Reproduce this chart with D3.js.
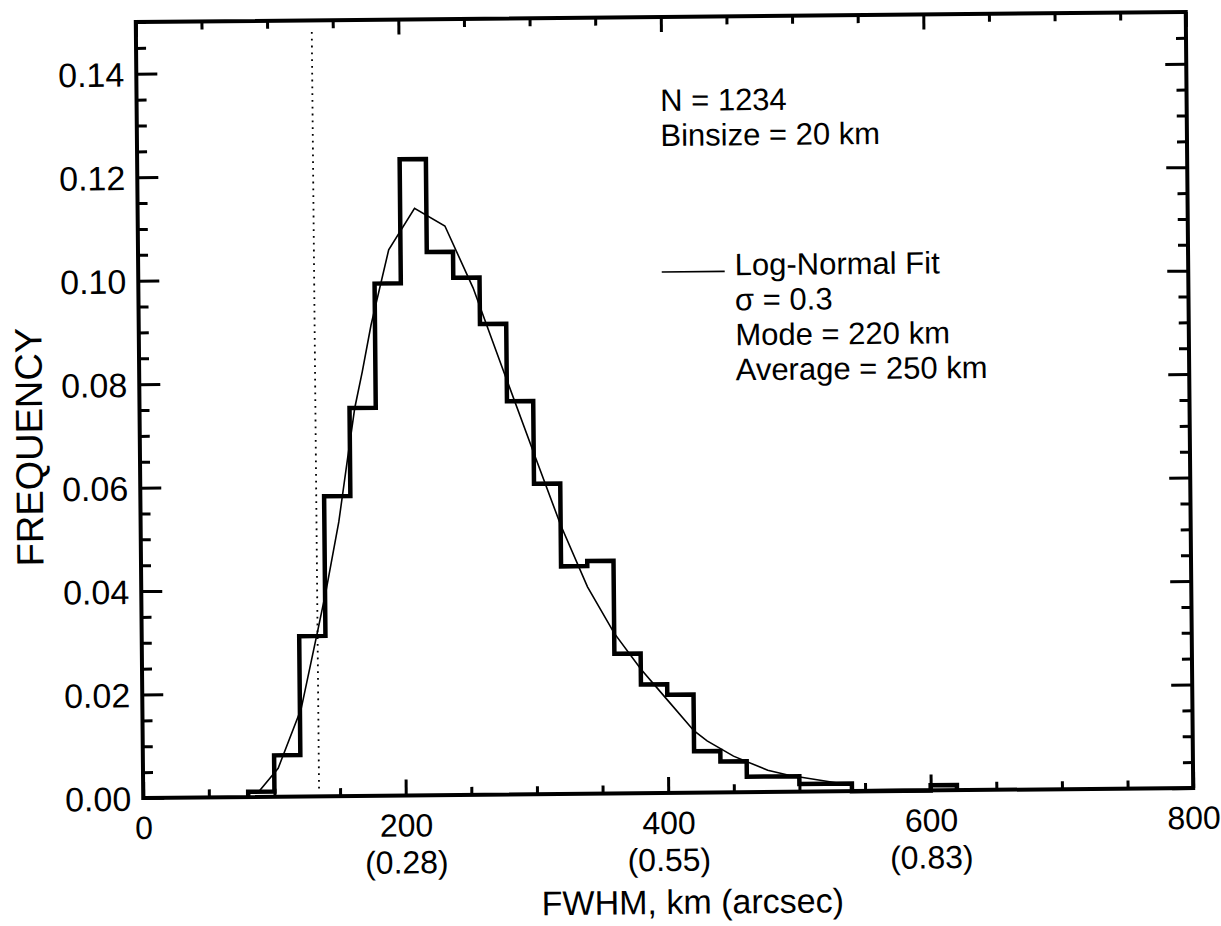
<!DOCTYPE html>
<html><head><meta charset="utf-8">
<script src="https://cdn.jsdelivr.net/npm/d3@7"></script>
<style>
body{margin:0;background:#fff}
svg{display:block}
text{font-family:"Liberation Sans",Arial,Helvetica,sans-serif;fill:#000}
</style>
</head><body>
<svg id="chart" width="1221" height="926"></svg>
<script>
// ---- data ----
const binWidth = 20;
const binStarts = [80,100,120,140,160,180,200,220,240,260,280,300,320,340,360,380,400,420,440,460,480,500,520,540,560,580,600];
const binFreq   = [0.001,0.008,0.031,0.058,0.075,0.099,0.123,0.105,0.100,0.091,0.076,0.060,0.044,0.045,0.027,0.021,0.019,0.008,0.006,0.003,0.003,0.0015,0.0015,0,0,0,0.001];
const fitKm   = [88,103,121,135,141,151,158,164,170,177,191,211,234,255,276,300,320,340,360,380,400,420,430,450,476,492,529];
const fitFreq = [0.001,0.0055,0.017,0.033,0.040,0.053,0.065,0.075,0.082,0.091,0.1055,0.1135,0.110,0.098,0.083,0.066,0.052,0.040,0.031,0.024,0.018,0.012,0.010,0.007,0.0042,0.0032,0.0016];
const cutoffKm = 134;
const yMajor = [0,0.02,0.04,0.06,0.08,0.10,0.12,0.14];
const yLabels = ["0.00","0.02","0.04","0.06","0.08","0.10","0.12","0.14"];
const xMajor = [0,200,400,600,800];
const xLabels = ["0","200","400","600","800"];
const xSubLabels = ["","(0.28)","(0.55)","(0.83)",""];
const statLines = ["N = 1234","Binsize = 20 km"];
const fitLines = ["Log-Normal Fit","\u03c3 = 0.3","Mode = 220 km","Average = 250 km"];
const xTitle = "FWHM, km (arcsec)";
const yTitle = "FREQUENCY";

// ---- layout ----
const L = 139.5, R = 1189.5, T = 17, B = 793;
const FONT = "Liberation Sans, Arial, sans-serif";
const svg = d3.select("#chart");
const g = svg.append("g").attr("transform","rotate(-0.55,664,405)");

const x = d3.scaleLinear().domain([0,800]).range([L,R]);
const y = d3.scaleLinear().domain([0,0.15]).range([B,T]);

const yMinor = d3.range(0,0.1501,0.005).filter(v=>!yMajor.some(m=>Math.abs(m-v)<1e-9));
const xMinor = d3.range(0,801,50).filter(v=>!xMajor.includes(v));

function styleAxis(sel){
  sel.select(".domain").remove();
  sel.selectAll(".tick line").attr("stroke","#000").attr("stroke-width",3);
}
// left
g.append("g").attr("transform",`translate(${L},0)`)
  .call(d3.axisLeft(y).tickValues(yMajor).tickSize(-21).tickFormat((d,i)=>yLabels[i]).tickPadding(12))
  .call(styleAxis)
  .call(s=>s.selectAll("text").attr("font-size",34).attr("font-family",FONT).attr("dy","0.36em"));
g.append("g").attr("transform",`translate(${L},0)`)
  .call(d3.axisLeft(y).tickValues(yMinor).tickSize(-10).tickFormat(""))
  .call(styleAxis);
// right
g.append("g").attr("transform",`translate(${R},0)`)
  .call(d3.axisRight(y).tickValues(yMajor).tickSize(-21).tickFormat(""))
  .call(styleAxis);
g.append("g").attr("transform",`translate(${R},0)`)
  .call(d3.axisRight(y).tickValues(yMinor).tickSize(-10).tickFormat(""))
  .call(styleAxis);
// bottom
const bx = g.append("g").attr("transform",`translate(0,${B})`)
  .call(d3.axisBottom(x).tickValues(xMajor).tickSize(-16).tickFormat(""))
  .call(styleAxis);
bx.selectAll(".tick").each(function(d,i){
  const t = d3.select(this);
  t.append("text").attr("fill","#000").attr("font-size",32).attr("font-family",FONT)
    .attr("text-anchor","middle").attr("y",41).text(xLabels[i]);
  if(xSubLabels[i]) t.append("text").attr("fill","#000").attr("font-size",32)
    .attr("font-family",FONT).attr("text-anchor","middle")
    .attr("y",78).text(xSubLabels[i]);
});
g.append("g").attr("transform",`translate(0,${B})`)
  .call(d3.axisBottom(x).tickValues(xMinor).tickSize(-8).tickFormat(""))
  .call(styleAxis);
// top
g.append("g").attr("transform",`translate(0,${T})`)
  .call(d3.axisTop(x).tickValues(xMajor).tickSize(-15).tickFormat(""))
  .call(styleAxis);
g.append("g").attr("transform",`translate(0,${T})`)
  .call(d3.axisTop(x).tickValues(xMinor).tickSize(-8).tickFormat(""))
  .call(styleAxis);

// frame
g.append("rect").attr("x",L).attr("y",T).attr("width",R-L).attr("height",B-T)
  .attr("fill","none").attr("stroke","#000").attr("stroke-width",4);

// dotted cutoff
g.append("line").attr("x1",x(cutoffKm)).attr("x2",x(cutoffKm))
  .attr("y1",y(0.0015)).attr("y2",y(0.148))
  .attr("stroke","#000").attr("stroke-width",1.8).attr("stroke-dasharray","1.8,5");

// histogram steps
const stepPts = [[binStarts[0],0]];
binStarts.forEach((s,i)=>{ stepPts.push([s,binFreq[i]]); stepPts.push([s+binWidth,binFreq[i]]); });
stepPts.push([binStarts[binStarts.length-1]+binWidth,0]);
g.append("path").datum(stepPts)
  .attr("d",d3.line().x(d=>x(d[0])).y(d=>y(d[1])))
  .attr("fill","none").attr("stroke","#000").attr("stroke-width",4.5).attr("stroke-linejoin","miter");

// fit curve
g.append("path").datum(fitKm.map((k,i)=>[k,fitFreq[i]]))
  .attr("d",d3.line().x(d=>x(d[0])).y(d=>y(d[1])))
  .attr("fill","none").attr("stroke","#000").attr("stroke-width",1.6);

// annotations
const ann = g.append("g").attr("font-size",31);
statLines.forEach((t,i)=>ann.append("text").attr("x",663).attr("y",111+i*35).text(t));
ann.append("line").attr("x1",663).attr("x2",726).attr("y1",272).attr("y2",272)
  .attr("stroke","#000").attr("stroke-width",1.6);
fitLines.forEach((t,i)=>ann.append("text").attr("x",736).attr("y",276+i*35).text(t));

// axis titles
g.append("text").attr("x",688).attr("y",914).attr("text-anchor","middle").attr("font-size",34).text(xTitle);
g.append("text").attr("transform","translate(42,441) rotate(-90)").attr("text-anchor","middle").attr("font-size",38).text(yTitle);
</script>
</body></html>
